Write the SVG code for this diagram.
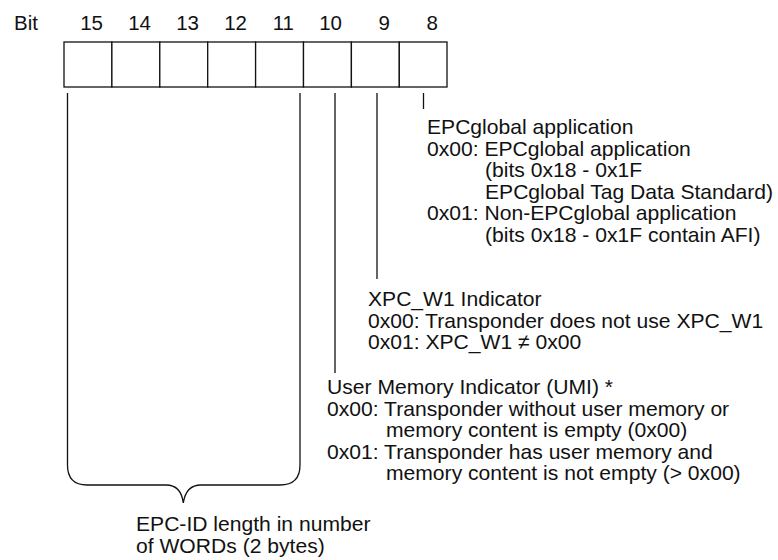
<svg xmlns="http://www.w3.org/2000/svg" width="778" height="560" viewBox="0 0 778 560">
  <style>
    text { font-family: "Liberation Sans", Arial, sans-serif; fill: #111; }
    .hdr { font-size: 20.5px; }
    .num { font-size: 20.5px; text-anchor: end; }
    .lbl { font-size: 21.1px; }
    .cell { fill: #fff; stroke: #111; stroke-width: 1.3; }
    .wire { fill: none; stroke: #111; stroke-width: 1.3; }
  </style>

  <!-- bit register, bits 15..8 -->
  <g id="register">
    <text class="hdr" x="14" y="30">Bit</text>
    <text class="num" x="103" y="30">15</text>
    <text class="num" x="151" y="30">14</text>
    <text class="num" x="199" y="30">13</text>
    <text class="num" x="247" y="30">12</text>
    <text class="num" x="294" y="30">11</text>
    <text class="num" x="342" y="30">10</text>
    <text class="num" x="390" y="30">9</text>
    <text class="num" x="438" y="30">8</text>
    <rect class="cell" x="64" y="42" width="47.9" height="45"/>
    <rect class="cell" x="111.9" y="42" width="47.9" height="45"/>
    <rect class="cell" x="159.8" y="42" width="47.9" height="45"/>
    <rect class="cell" x="207.7" y="42" width="47.9" height="45"/>
    <rect class="cell" x="255.6" y="42" width="47.9" height="45"/>
    <rect class="cell" x="303.5" y="42" width="47.9" height="45"/>
    <rect class="cell" x="351.4" y="42" width="47.9" height="45"/>
    <rect class="cell" x="399.3" y="42" width="47.7" height="45"/>
  </g>

  <!-- leader lines and brace -->
  <g id="connectors">
    <path class="wire" d="M67.5,93 V465 Q67.5,485 87,485 H166 Q181,485 183.3,503 Q186,485 201,485 H280 Q300,485 300,465 V93"/>
    <line class="wire" x1="335" y1="93" x2="335" y2="373"/>
    <line class="wire" x1="377" y1="93" x2="377" y2="279"/>
    <line class="wire" x1="423.5" y1="93" x2="423.5" y2="109"/>
  </g>

  <g id="bit8">
    <text class="lbl" x="427" y="134">EPCglobal application</text>
    <text class="lbl" x="427" y="155.5">0x00: EPCglobal application</text>
    <text class="lbl" x="485" y="177">(bits 0x18 - 0x1F</text>
    <text class="lbl" x="485" y="198.5">EPCglobal Tag Data Standard)</text>
    <text class="lbl" x="427" y="220">0x01: Non-EPCglobal application</text>
    <text class="lbl" x="485" y="241.5">(bits 0x18 - 0x1F contain AFI)</text>
  </g>

  <g id="bit9">
    <text class="lbl" x="368" y="306">XPC_W1 Indicator</text>
    <text class="lbl" x="368" y="327.5">0x00: Transponder does not use XPC_W1</text>
    <text class="lbl" x="368" y="349">0x01: XPC_W1 ≠ 0x00</text>
  </g>

  <g id="bit10">
    <text class="lbl" x="327" y="394">User Memory Indicator (UMI) *</text>
    <text class="lbl" x="327" y="415.5">0x00: Transponder without user memory or</text>
    <text class="lbl" x="386" y="437">memory content is empty (0x00)</text>
    <text class="lbl" x="327" y="458.5">0x01: Transponder has user memory and</text>
    <text class="lbl" x="386" y="480">memory content is not empty (&gt; 0x00)</text>
  </g>

  <g id="bits15to11">
    <text class="lbl" x="136" y="531">EPC-ID length in number</text>
    <text class="lbl" x="136" y="553">of WORDs (2 bytes)</text>
  </g>
</svg>
